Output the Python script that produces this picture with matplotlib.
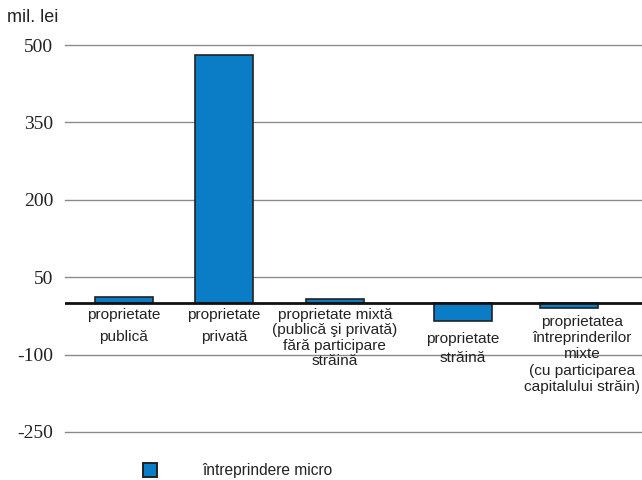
import matplotlib

matplotlib.use("Agg")
import matplotlib.pyplot as plt  # noqa: E402
from matplotlib.patches import Rectangle  # noqa: E402

categories = [
    "proprietate\npublică",
    "proprietate\nprivată",
    "proprietate mixtă\n(publică şi privată)\nfără participare\nstrăină",
    "proprietate\nstrăină",
    "proprietatea\nîntreprinderilor\nmixte\n(cu participarea\ncapitalului străin)",
]
values = [12, 480, 7, -35, -10]
yticks = [500, 350, 200, 50, -100, -250]
series_name = "întreprindere micro"
unit_label = "mil. lei"

# layout only
x_pos = [0, 1, 2.11, 3.39, 4.45]
label_dx = [0, 0, 0, 0, 0.135]
label_top = [-9.5, -9.5, -9.5, -56, -23]
label_spacing = [1.76, 1.76, 1.12, 1.44, 1.2]
bar_color = "#0A7DC6"
text_color = "#222222"

fig = plt.figure(figsize=(6.42, 4.80), dpi=100)
ax = fig.add_axes([0.101, 0.1, 0.899, 0.806])

ax.bar(x_pos, values, width=0.58, color=bar_color, edgecolor="#222222",
       linewidth=1.2, zorder=3)
ax.set_xlim(-0.59, 5.18)
ax.set_ylim(-250, 500)
ax.set_yticks(yticks)
ax.set_yticklabels([str(v) for v in yticks], family="Liberation Serif",
                   fontsize=14, color=text_color)
ax.tick_params(axis="y", length=0, pad=8.5)
ax.set_xticks([])
for s in ax.spines.values():
    s.set_visible(False)
for v in yticks:
    ax.axhline(v, color="#8a8a8a", linewidth=1.0, zorder=1, clip_on=False)
ax.axhline(0, color="#111111", linewidth=2.0, zorder=4)

for x, dx, lab, top, ls in zip(x_pos, label_dx, categories, label_top,
                               label_spacing):
    ax.text(x + dx, top, lab, ha="center", va="top", fontsize=11.1,
            family="Liberation Sans", linespacing=ls, color=text_color,
            zorder=5)

fig.text(0.011, 1 - 18 / 480, unit_label, fontsize=13, family="Liberation Sans",
         va="center", ha="left", color=text_color)

fig.patches.append(Rectangle((143 / 642, 1 - 477 / 480), 14 / 642, 14 / 480,
                             transform=fig.transFigure, facecolor=bar_color,
                             edgecolor="#222222", linewidth=1.4))
fig.text(202 / 642, 1 - 470 / 480, series_name, fontsize=11.2,
         family="Liberation Sans", va="center", ha="left", color=text_color)

fig.savefig("out.png", dpi=100)
